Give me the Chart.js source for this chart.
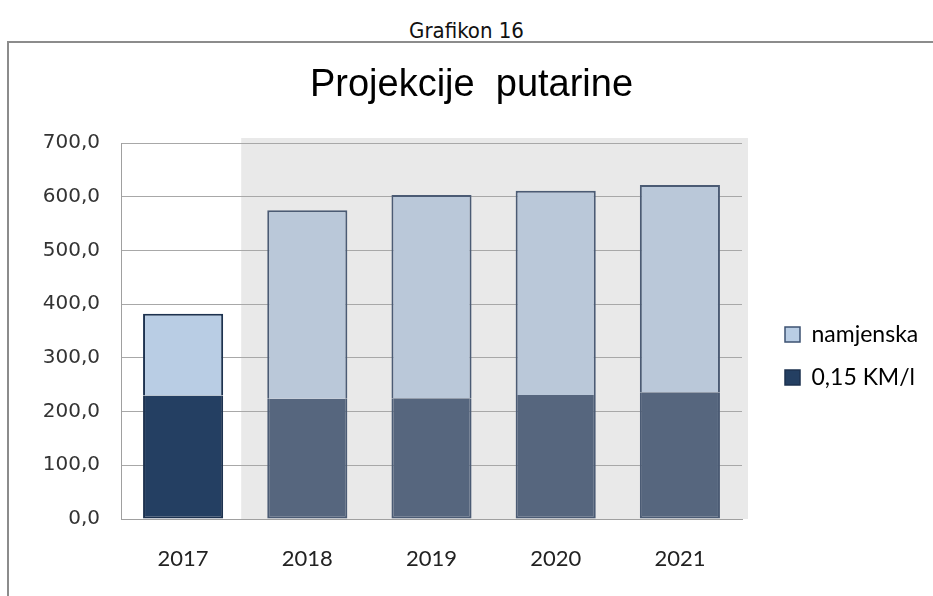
<!DOCTYPE html>
<html>
<head>
<meta charset="utf-8">
<script src="https://cdn.jsdelivr.net/npm/chart.js@4/dist/chart.umd.min.js"></script>
<style>
  html, body { margin: 0; padding: 0; background: #fff; overflow: hidden; }
  body { width: 933px; height: 596px; position: relative; }
  #caption { position: absolute; left: 0; top: 18px; width: 933px; text-align: center;
    font: 22px "DejaVu Sans Condensed", "DejaVu Sans", sans-serif; color: #111; }
  #frame { position: absolute; left: 7px; top: 41px; width: 940px; height: 600px;
    border-left: 2px solid #8c8c8c; border-top: 2px solid #8c8c8c; }
  #chart { position: absolute; left: 10px; top: 43px; }
</style>
</head>
<body>
<div id="caption">Grafikon 16</div>
<div id="frame"></div>
<canvas id="chart" width="923" height="553"></canvas>
<script>
const years = ["2017", "2018", "2019", "2020", "2021"];
const kmPerLitre = [230, 224, 225, 231, 236];   // 0,15 KM/l
const namjenska = [152, 351, 378, 380, 386];
const yTicks = [0, 100, 200, 300, 400, 500, 600, 700];

// 2017 is actual, the rest are projections (greyed)
const darkColors = (i) => (i === 0 ? "#243f62" : "#56667e");
const lightColors = (i) => (i === 0 ? "#b9cde4" : "#bac8d9");
const edgeColors = (i) => (i === 0 ? "#1d324f" : "#4b5b74");

const projectionShade = {
  id: "projectionShade",
  beforeDraw(chart) {
    const { ctx, chartArea, scales } = chart;
    const x0 = (scales.x.getPixelForValue(0) + scales.x.getPixelForValue(1)) / 2 - 4;
    ctx.save();
    ctx.fillStyle = "#e9e9e9";
    ctx.fillRect(x0, chartArea.top - 5, chartArea.right + 6 - x0, chartArea.bottom - chartArea.top + 5);
    ctx.restore();
  },
};

const legendPlace = {
  id: "legendPlace",
  beforeLayout(chart) {
    const lg = chart.legend;
    if (lg && !lg._fixed) {
      const fit = lg.fit;
      lg.fit = function () { fit.call(this); this.width = 191; };
      lg._fixed = true;
    }
  },
  afterLayout(chart) {
    const lg = chart.legend;
    lg.left += 23;
    lg.right += 23;
    lg.top = chart.chartArea.top + 160;
    lg.adjustHitBoxes();
  },
};

new Chart(document.getElementById("chart"), {
  type: "bar",
  data: {
    labels: years,
    datasets: [
      {
        label: "0,15 KM/l",
        data: kmPerLitre,
        backgroundColor: (c) => darkColors(c.dataIndex),
        borderColor: (c) => edgeColors(c.dataIndex),
        borderWidth: 2,
        borderSkipped: "top",
      },
      {
        label: "namjenska",
        data: namjenska,
        backgroundColor: (c) => lightColors(c.dataIndex),
        borderColor: (c) => edgeColors(c.dataIndex),
        borderWidth: 2,
        borderSkipped: "bottom",
      },
    ],
  },
  options: {
    responsive: false,
    animation: false,
    devicePixelRatio: 1,
    datasets: { bar: { categoryPercentage: 1, barPercentage: 0.645 } },
    layout: { padding: 0 },
    scales: {
      x: {
        stacked: true,
        grid: { display: false, drawTicks: false },
        border: { color: "#a0a0a0", width: 1 },
        ticks: { padding: 27, color: "#222", font: { family: "Lato", size: 22 } },
        afterFit: (s) => { s.height = 77; },
      },
      y: {
        stacked: true,
        min: 0,
        max: 700,
        afterBuildTicks: (s) => { s.ticks = yTicks.map((v) => ({ value: v })); },
        grid: { color: "#a8a8a8", lineWidth: 1, drawTicks: false },
        border: { color: "#a0a0a0", width: 1 },
        ticks: {
          padding: 21,
          color: "#333",
          font: { family: "DejaVu Sans", size: 20 },
          callback: (v) => v.toFixed(1).replace(".", ","),
        },
        afterFit: (s) => { s.width = 111; },
      },
    },
    plugins: {
      title: {
        display: true,
        text: "Projekcije  putarine",
        color: "#000",
        font: { family: "Liberation Sans", size: 38, weight: "normal" },
        padding: { top: 20, bottom: 34.4 },
      },
      legend: {
        position: "right",
        align: "start",
        reverse: true,
        labels: {
          boxWidth: 15,
          boxHeight: 15,
          padding: 20,
          color: "#222",
          font: { family: "Lato", size: 23 },
          generateLabels: (chart) => chart.data.datasets.map((ds, i) => ({
            text: ds.label,
            fillStyle: i === 0 ? "#243f62" : "#b9cde4",
            strokeStyle: i === 0 ? "#1d324f" : "#3d5272",
            lineWidth: 1.5,
            datasetIndex: i,
            hidden: false,
          })),
        },
      },
      tooltip: { enabled: false },
    },
  },
  plugins: [projectionShade, legendPlace],
});
</script>
</body>
</html>
